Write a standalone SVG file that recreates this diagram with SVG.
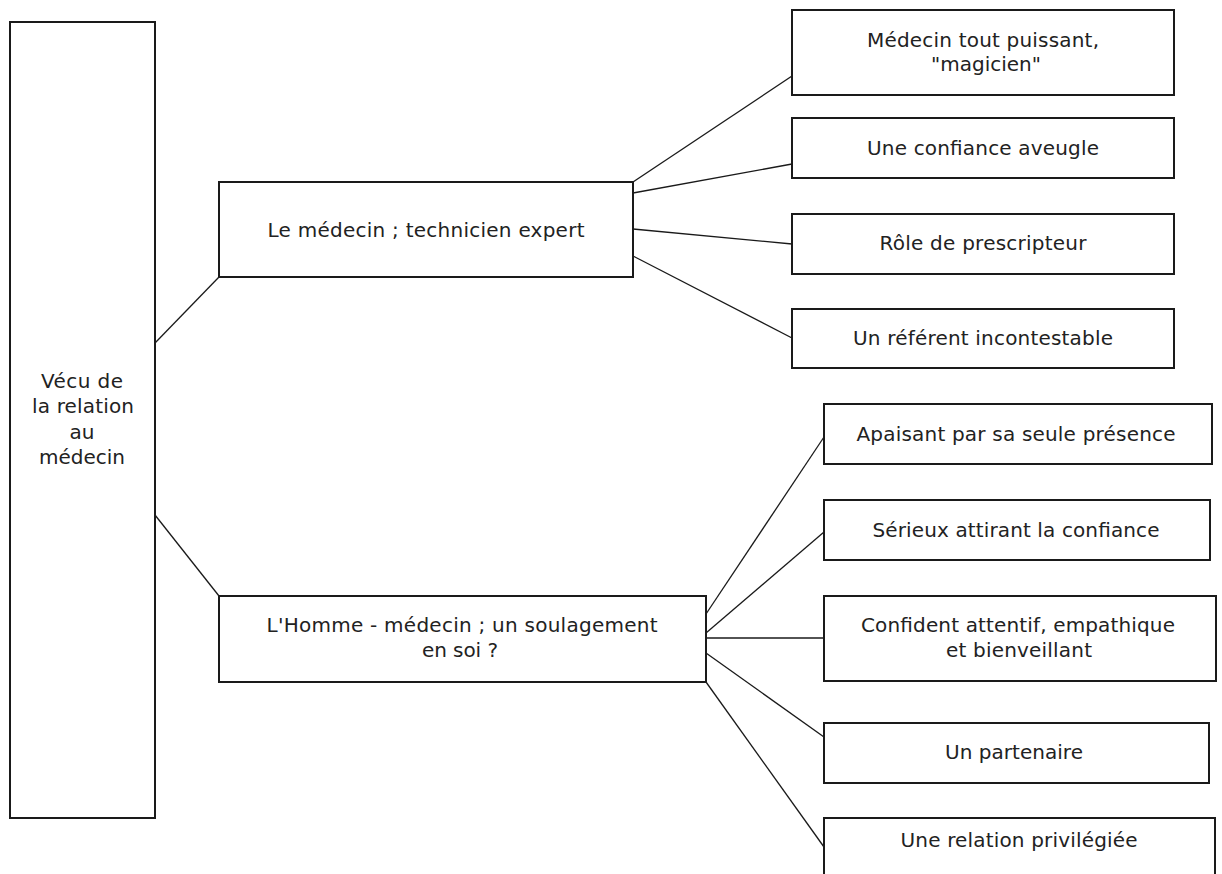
<svg xmlns="http://www.w3.org/2000/svg" width="1222" height="874" viewBox="0 0 1222 874">
<style>
.box{fill:#fff;stroke:#1a1a1a;stroke-width:2}
.ln{stroke:#1a1a1a;stroke-width:1.3;fill:none}
text{font-family:"DejaVu Sans","Liberation Sans",sans-serif;font-size:20px;fill:#222;text-anchor:middle}
</style>
<rect width="1222" height="874" fill="#fff"/>
<g id="connectors">
<line class="ln" x1="155" y1="343" x2="219" y2="277"/>
<line class="ln" x1="155" y1="515" x2="219" y2="596"/>
<line class="ln" x1="633" y1="182" x2="792" y2="76"/>
<line class="ln" x1="633" y1="193" x2="792" y2="164"/>
<line class="ln" x1="633" y1="229" x2="792" y2="244"/>
<line class="ln" x1="633" y1="256" x2="792" y2="338"/>
<line class="ln" x1="706" y1="614" x2="824" y2="437"/>
<line class="ln" x1="706" y1="633" x2="824" y2="532"/>
<line class="ln" x1="706" y1="638" x2="824" y2="638"/>
<line class="ln" x1="706" y1="653" x2="824" y2="737"/>
<line class="ln" x1="706" y1="682" x2="824" y2="847"/>
</g>
<g id="root">
<rect class="box" x="10" y="22" width="145" height="796"/>
<text x="82" y="388" textLength="82" lengthAdjust="spacing">Vécu de</text>
<text x="83" y="413" textLength="102" lengthAdjust="spacing">la relation</text>
<text x="82" y="439">au</text>
<text x="82" y="464" textLength="86" lengthAdjust="spacing">médecin</text>
</g>
<g id="technicien">
<rect class="box" x="219" y="182" width="414" height="95"/>
<text x="426" y="237" textLength="317" lengthAdjust="spacing">Le médecin ; technicien expert</text>
</g>
<g id="homme">
<rect class="box" x="219" y="596" width="487" height="86"/>
<text x="462" y="632" textLength="391" lengthAdjust="spacing">L'Homme - médecin ; un soulagement</text>
<text x="460" y="657" textLength="76" lengthAdjust="spacing">en soi ?</text>
</g>
<g id="magicien">
<rect class="box" x="792" y="10" width="382" height="85"/>
<text x="983" y="47" textLength="232" lengthAdjust="spacing">Médecin tout puissant,</text>
<text x="986" y="71" textLength="110" lengthAdjust="spacing">"magicien"</text>
</g>
<g id="confiance">
<rect class="box" x="792" y="118" width="382" height="60"/>
<text x="983" y="155" textLength="232" lengthAdjust="spacing">Une confiance aveugle</text>
</g>
<g id="prescripteur">
<rect class="box" x="792" y="214" width="382" height="60"/>
<text x="983" y="250" textLength="207" lengthAdjust="spacing">Rôle de prescripteur</text>
</g>
<g id="referent">
<rect class="box" x="792" y="309" width="382" height="59"/>
<text x="983" y="345" textLength="260" lengthAdjust="spacing">Un référent incontestable</text>
</g>
<g id="apaisant">
<rect class="box" x="824" y="404" width="388" height="60"/>
<text x="1016" y="441" textLength="319" lengthAdjust="spacing">Apaisant par sa seule présence</text>
</g>
<g id="serieux">
<rect class="box" x="824" y="500" width="386" height="60"/>
<text x="1016" y="537" textLength="287" lengthAdjust="spacing">Sérieux attirant la confiance</text>
</g>
<g id="confident">
<rect class="box" x="824" y="596" width="392" height="85"/>
<text x="1018" y="632" textLength="314" lengthAdjust="spacing">Confident attentif, empathique</text>
<text x="1019" y="657" textLength="146" lengthAdjust="spacing">et bienveillant</text>
</g>
<g id="partenaire">
<rect class="box" x="824" y="723" width="385" height="60"/>
<text x="1014" y="759" textLength="138" lengthAdjust="spacing">Un partenaire</text>
</g>
<g id="privilegiee">
<rect class="box" x="824" y="818" width="391" height="70"/>
<text x="1019" y="847" textLength="237" lengthAdjust="spacing">Une relation privilégiée</text>
</g>
</svg>
